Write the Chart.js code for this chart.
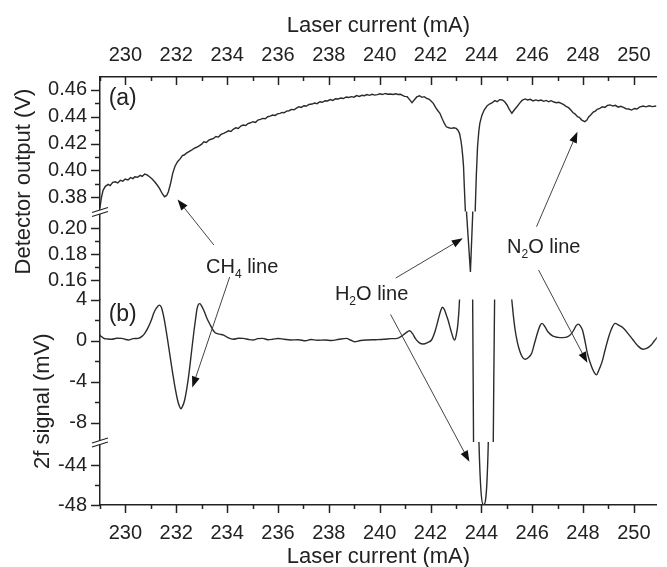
<!DOCTYPE html>
<html>
<head>
<meta charset="utf-8">
<script src="https://cdn.jsdelivr.net/npm/chart.js@4"></script>
<style>
  html, body { margin: 0; padding: 0; background: #fff; }
  #plot { display: block; }
</style>
</head>
<body>
<canvas id="plot" width="667" height="567"></canvas>
<script>
(function () {
    'use strict';

    // Panel (a): direct detector output vs laser current
    var currentA = [
        229.00, 229.05, 229.12, 229.21, 229.32, 229.40, 229.50, 229.60, 229.70, 229.80,
        229.90, 229.99, 230.10, 230.20, 230.30, 230.37, 230.48, 230.58, 230.66, 230.76,
        230.85, 230.96, 231.05, 231.15, 231.25, 231.34, 231.45, 231.54, 231.62, 231.69,
        231.78, 231.86, 231.95, 232.05, 232.15, 232.24, 232.31, 232.40, 232.50, 232.60,
        232.70, 232.80, 232.90, 233.00, 233.08, 233.18, 233.28, 233.37, 233.47, 233.56,
        233.66, 233.76, 233.86, 233.96, 234.05, 234.15, 234.24, 234.34, 234.44, 234.54,
        234.63, 234.73, 234.82, 234.92, 235.02, 235.12, 235.21, 235.31, 235.40, 235.50,
        235.60, 235.69, 235.79, 235.89, 235.98, 236.08, 236.17, 236.24, 236.34, 236.44,
        236.53, 236.63, 236.73, 236.82, 236.92, 237.02, 237.12, 237.22, 237.34, 237.44,
        237.54, 237.65, 237.75, 237.85, 237.95, 238.06, 238.16, 238.26, 238.37, 238.47,
        238.58, 238.68, 238.78, 238.89, 238.99, 239.09, 239.20, 239.30, 239.40, 239.50,
        239.60, 239.70, 239.81, 239.91, 240.01, 240.11, 240.22, 240.32, 240.43, 240.53,
        240.63, 240.72, 240.82, 240.90, 240.98, 241.08, 241.17, 241.27, 241.36, 241.46,
        241.57, 241.66, 241.75, 241.85, 241.95, 242.03, 242.11, 242.20, 242.29, 242.37,
        242.46, 242.55, 242.62, 242.72, 242.82, 242.92, 243.01, 243.08, 243.14, 243.19,
        243.23, 243.27, 243.30, 243.33, 243.37, 243.42, 243.57, 243.66, 243.76, 243.80,
        243.85, 243.90, 243.94, 244.02, 244.11, 244.22, 244.32, 244.43, 244.53, 244.62,
        244.72, 244.82, 244.92, 245.01, 245.10, 245.20, 245.30, 245.40, 245.50, 245.60,
        245.72, 245.82, 245.93, 246.03, 246.14, 246.24, 246.35, 246.45, 246.55, 246.65,
        246.75, 246.85, 246.95, 247.05, 247.14, 247.24, 247.33, 247.43, 247.52, 247.60,
        247.69, 247.78, 247.85, 247.95, 248.07, 248.15, 248.22, 248.30, 248.40, 248.48,
        248.56, 248.66, 248.76, 248.86, 248.96, 249.07, 249.17, 249.27, 249.38, 249.48,
        249.59, 249.69, 249.80, 249.91, 250.02, 250.12, 250.22, 250.36, 250.48, 250.60,
        250.72, 250.88
    ];
    var detectorV = [
        0.3720, 0.3790, 0.3850, 0.3880, 0.3895, 0.3885, 0.3910, 0.3914, 0.3905, 0.3925,
        0.3918, 0.3935, 0.3928, 0.3945, 0.3938, 0.3952, 0.3948, 0.3962, 0.3955, 0.3972,
        0.3965, 0.3950, 0.3935, 0.3914, 0.3890, 0.3865, 0.3825, 0.3802, 0.3812, 0.3840,
        0.3905, 0.3977, 0.4030, 0.4064, 0.4085, 0.4110, 0.4114, 0.4128, 0.4140, 0.4150,
        0.4164, 0.4172, 0.4182, 0.4195, 0.4213, 0.4208, 0.4225, 0.4232, 0.4239, 0.4252,
        0.4248, 0.4268, 0.4276, 0.4285, 0.4295, 0.4290, 0.4306, 0.4318, 0.4312, 0.4330,
        0.4338, 0.4335, 0.4348, 0.4355, 0.4363, 0.4358, 0.4375, 0.4380, 0.4388, 0.4385,
        0.4400, 0.4405, 0.4413, 0.4410, 0.4422, 0.4425, 0.4432, 0.4430, 0.4442, 0.4445,
        0.4455, 0.4452, 0.4465, 0.4475, 0.4470, 0.4482, 0.4480, 0.4492, 0.4495, 0.4502,
        0.4498, 0.4512, 0.4508, 0.4520, 0.4518, 0.4528, 0.4522, 0.4535, 0.4533, 0.4540,
        0.4536, 0.4548, 0.4544, 0.4550, 0.4546, 0.4558, 0.4552, 0.4560, 0.4557, 0.4566,
        0.4560, 0.4568, 0.4562, 0.4565, 0.4572, 0.4566, 0.4574, 0.4568, 0.4570, 0.4566,
        0.4572, 0.4566, 0.4568, 0.4560, 0.4552, 0.4550, 0.4530, 0.4505, 0.4525, 0.4548,
        0.4557, 0.4545, 0.4550, 0.4538, 0.4530, 0.4515, 0.4500, 0.4470, 0.4445, 0.4426,
        0.4385, 0.4348, 0.4325, 0.4318, 0.4313, 0.4318, 0.4313, 0.4300, 0.4276, 0.4230,
        0.4176, 0.4100, 0.4026, 0.3877, 0.3700, 0.2110, 0.1662, 0.2110, 0.3710, 0.3950,
        0.4176, 0.4290, 0.4351, 0.4410, 0.4450, 0.4480, 0.4495, 0.4505, 0.4520, 0.4512,
        0.4528, 0.4525, 0.4512, 0.4488, 0.4455, 0.4426, 0.4452, 0.4475, 0.4500, 0.4522,
        0.4533, 0.4525, 0.4530, 0.4518, 0.4526, 0.4520, 0.4525, 0.4515, 0.4522, 0.4512,
        0.4520, 0.4510, 0.4505, 0.4508, 0.4500, 0.4490, 0.4478, 0.4468, 0.4450, 0.4432,
        0.4420, 0.4400, 0.4396, 0.4375, 0.4363, 0.4375, 0.4398, 0.4413, 0.4435, 0.4442,
        0.4456, 0.4462, 0.4475, 0.4470, 0.4485, 0.4488, 0.4480, 0.4485, 0.4472, 0.4478,
        0.4470, 0.4460, 0.4458, 0.4450, 0.4462, 0.4458, 0.4472, 0.4480, 0.4474, 0.4482,
        0.4476, 0.4480
    ];

    // Panel (b): second harmonic signal vs laser current
    var currentB = [
        228.96, 229.05, 229.15, 229.30, 229.47, 229.65, 229.86, 230.00, 230.12, 230.30,
        230.50, 230.65, 230.76, 230.90, 231.02, 231.12, 231.21, 231.34, 231.42, 231.50,
        231.58, 231.66, 231.76, 231.86, 231.96, 232.05, 232.12, 232.18, 232.25, 232.33,
        232.42, 232.50, 232.60, 232.70, 232.77, 232.82, 232.88, 232.93, 233.00, 233.08,
        233.20, 233.34, 233.45, 233.53, 233.70, 233.86, 234.05, 234.24, 234.45, 234.63,
        234.85, 235.02, 235.20, 235.40, 235.60, 235.79, 236.00, 236.24, 236.50, 236.80,
        237.08, 237.30, 237.55, 237.85, 238.10, 238.40, 238.69, 238.85, 239.01, 239.25,
        239.53, 239.85, 240.17, 240.45, 240.69, 240.85, 241.01, 241.18, 241.30, 241.40,
        241.55, 241.72, 241.88, 242.04, 242.18, 242.30, 242.40, 242.47, 242.55, 242.62,
        242.69, 242.80, 242.90, 242.95, 243.01, 243.08, 243.14, 243.20, 243.40, 243.655,
        243.695, 243.91, 244.09, 244.27, 244.465, 244.525, 244.85, 245.15, 245.20, 245.26,
        245.33, 245.42, 245.52, 245.62, 245.72, 245.85, 245.98, 246.10, 246.24, 246.32,
        246.39, 246.50, 246.62, 246.80, 247.01, 247.20, 247.40, 247.55, 247.65, 247.73,
        247.81, 247.90, 247.98, 248.08, 248.17, 248.27, 248.36, 248.45, 248.53, 248.62,
        248.75, 248.88, 249.01, 249.13, 249.26, 249.40, 249.59, 249.78, 249.97, 250.15,
        250.36, 250.52, 250.68, 250.80, 250.94
    ];
    var signal2f = [
        0.63, 0.40, 0.21, 0.15, 0.12, 0.22, 0.21, 0.10, 0.05, 0.18,
        0.21, 0.40, 0.70, 1.30, 2.00, 2.70, 3.13, 3.45, 3.20, 2.40,
        1.30, 0.05, -1.60, -3.20, -4.70, -5.80, -6.40, -6.65, -6.40, -5.80,
        -4.60, -3.20, -1.10, 1.00, 2.30, 3.13, 3.55, 3.60, 3.35, 2.96,
        2.20, 1.50, 1.00, 0.76, 0.62, 0.53, 0.25, 0.12, 0.22, 0.21,
        0.10, 0.05, 0.18, 0.21, 0.08, 0.12, 0.20, 0.12, 0.05, 0.08,
        -0.02, 0.10, 0.02, 0.05, 0.00, 0.12, 0.21, 0.05, -0.12, 0.00,
        0.05, 0.08, 0.12, 0.18, 0.21, 0.40, 0.70, 0.95, 0.65, 0.21,
        -0.20, -0.34, -0.20, 0.05, 0.90, 2.00, 2.90, 3.25, 3.00, 2.50,
        2.00, 1.00, 0.20, 0.05, 0.50, 1.67, 3.90, 8.00, 14.00, 5.00,
        -11.00, -42.07, -48.00, -42.07, -11.00, 5.00, 14.00, 5.00, 3.90, 2.40,
        1.00, -0.20, -1.10, -1.65, -1.83, -1.65, -1.24, -0.20, 1.00, 1.50,
        1.67, 1.35, 0.85, 0.45, 0.31, 0.28, 0.37, 0.70, 1.09, 1.45,
        1.60, 1.40, 1.00, -0.10, -1.24, -2.10, -2.70, -3.15, -3.35, -2.90,
        -2.06, -0.80, 0.37, 1.20, 1.67, 1.50, 1.20, 0.65, 0.05, -0.50,
        -0.85, -0.75, -0.44, -0.05, 0.37
    ];

    // Tick labels
    var currentTicks = [230, 232, 234, 236, 238, 240, 242, 244, 246, 248, 250];
    var detectorTicksHigh = [0.38, 0.40, 0.42, 0.44, 0.46];
    var detectorTicksLow = [0.16, 0.18, 0.20];
    var signalTicksHigh = [4, 0, -4, -8];
    var signalTicksLow = [-44, -48];

    var ink = '#222';
    var family = "'Liberation Sans', Arial, sans-serif";

    function pairs(xs, ys) {
        return xs.map(function (x, i) { return {x: x, y: ys[i]}; });
    }

    function halfSteps(ticks) {
        var out = [];
        for (var i = 0; i < ticks.length - 1; i++)
            out.push((ticks[i] + ticks[i + 1]) / 2);
        return out;
    }

    // every y segment of the broken axes stacks on the left
    function segment(min, max, ticks, weight, stackWeight, fmt) {
        return {
            'type'        : 'linear',
            'position'    : 'left',
            'stack'       : 'left',
            'stackWeight' : stackWeight,
            'weight'      : weight,
            'min'         : min,
            'max'         : max,
            'afterBuildTicks' : function (s) { s.ticks = ticks.map(function (v) { return {value: v}; }); },
            'afterFit'    : function (s) { s.width = 100; },
            'grid'        : {drawOnChartArea: false, drawTicks: false},
            'border'      : {color: ink, width: 1.5},
            'ticks'       : {padding: 13, color: ink, autoSkip: false, font: {family: family, size: 20}, callback: fmt}
        };
    }

    var minorTicks = {
        vHigh : [0.39, 0.41, 0.43, 0.45],
        vLow  : halfSteps(detectorTicksLow),
        sHigh : halfSteps(signalTicksHigh),
        sLow  : halfSteps(signalTicksLow)
    };
    var majorTicks = {
        vHigh : detectorTicksHigh,
        vLow  : detectorTicksLow,
        sHigh : signalTicksHigh,
        sLow  : signalTicksLow
    };

    // labels and arrows, anchored in data units
    var notes = [
        {parts: ['CH', '4', ' line'], x: 233.17, axis: 'vLow', y: 0.1654},
        {parts: ['H', '2', 'O line'], x: 238.24, axis: 'sHigh', y: 4.0},
        {parts: ['N', '2', 'O line'], x: 245.01, axis: 'vLow', y: 0.1808},
        {parts: ['(a)', '', ''], x: 229.34, axis: 'vHigh', y: 0.4488},
        {parts: ['(b)', '', ''], x: 229.34, axis: 'sHigh', y: 1.88}
    ];
    var arrows = [
        {from: [233.48, 'vLow', 0.1869], to: [232.05, 'vHigh', 0.3782]},
        {from: [234.10, 'vLow', 0.1623], to: [232.63, 'sHigh', -4.59]},
        {from: [240.63, 'vLow', 0.1615], to: [243.27, 'vLow', 0.1921]},
        {from: [240.43, 'sHigh', 2.54], to: [243.53, 'sLow', -43.67]},
        {from: [246.17, 'vLow', 0.2010], to: [247.78, 'vHigh', 0.4288]},
        {from: [246.25, 'vLow', 0.1677], to: [248.17, 'sHigh', -2.18]}
    ];

    function px(chart, x, axis, y) {
        return [chart.scales.x.getPixelForValue(x), chart.scales[axis].getPixelForValue(y)];
    }

    var decor = {
        id: 'decor',
        beforeDatasetDraw: function (chart, args) {
            var y = chart.scales[args.meta.yAxisID];
            var a = chart.chartArea;
            chart.ctx.save();
            chart.ctx.beginPath();
            chart.ctx.rect(a.left, y.top, a.right - a.left, y.bottom - y.top);
            chart.ctx.clip();
        },
        afterDatasetDraw: function (chart) {
            chart.ctx.restore();
        },
        afterDraw: function (chart) {
            var ctx = chart.ctx;
            var a = chart.chartArea;
            var sx = chart.scales.x;
            ctx.save();
            ctx.strokeStyle = ink;
            ctx.lineWidth = 1.5;

            // y ticks, pointing out
            Object.keys(majorTicks).forEach(function (id) {
                var s = chart.scales[id];
                majorTicks[id].forEach(function (v) {
                    var p = Math.round(s.getPixelForValue(v)) + 0.5;
                    ctx.beginPath(); ctx.moveTo(a.left - 9, p); ctx.lineTo(a.left, p); ctx.stroke();
                });
                minorTicks[id].forEach(function (v) {
                    var p = Math.round(s.getPixelForValue(v)) + 0.5;
                    ctx.beginPath(); ctx.moveTo(a.left - 5, p); ctx.lineTo(a.left, p); ctx.stroke();
                });
            });

            // x ticks: bottom point out, top point in
            var minorX = [229].concat(halfSteps(currentTicks), [251]);
            currentTicks.forEach(function (v) {
                var p = Math.round(sx.getPixelForValue(v)) + 0.5;
                ctx.beginPath(); ctx.moveTo(p, a.bottom); ctx.lineTo(p, a.bottom + 8); ctx.stroke();
                ctx.beginPath(); ctx.moveTo(p, a.top); ctx.lineTo(p, a.top + 8); ctx.stroke();
            });
            minorX.forEach(function (v) {
                if (v > sx.max) return;
                var p = Math.round(sx.getPixelForValue(v)) + 0.5;
                ctx.beginPath(); ctx.moveTo(p, a.bottom); ctx.lineTo(p, a.bottom + 4); ctx.stroke();
                ctx.beginPath(); ctx.moveTo(p, a.top); ctx.lineTo(p, a.top + 4); ctx.stroke();
            });

            // axis break marks
            ['vHigh', 'sHigh'].forEach(function (id) {
                var yb = chart.scales[id].bottom;
                var x0 = a.left - 8, x1 = a.left + 8;
                ctx.beginPath();
                ctx.moveTo(x0, yb + 1); ctx.lineTo(x1, yb - 4);
                ctx.lineTo(x1, yb); ctx.lineTo(x0, yb + 5);
                ctx.closePath();
                ctx.fillStyle = '#fff';
                ctx.fill();
                ctx.lineWidth = 1.3;
                ctx.beginPath(); ctx.moveTo(x0, yb + 1); ctx.lineTo(x1, yb - 4); ctx.stroke();
                ctx.beginPath(); ctx.moveTo(x0, yb + 5); ctx.lineTo(x1, yb); ctx.stroke();
            });

            // y titles
            ctx.fillStyle = ink;
            ctx.font = '22px ' + family;
            ctx.textAlign = 'center';
            ctx.textBaseline = 'middle';
            var titles = [
                ['Detector output (V)', 23.5, (chart.scales.vHigh.getPixelForValue(0.47) + chart.scales.vLow.getPixelForValue(0.155)) / 2],
                ['2f signal (mV)', 42.5, (chart.scales.sHigh.getPixelForValue(4.2) + chart.scales.sLow.getPixelForValue(-48)) / 2]
            ];
            titles.forEach(function (t) {
                ctx.save();
                ctx.translate(t[1], t[2]);
                ctx.rotate(-Math.PI / 2);
                ctx.fillText(t[0], 0, 0);
                ctx.restore();
            });

            // arrows
            ctx.strokeStyle = '#444';
            ctx.fillStyle = '#111';
            ctx.lineWidth = 1;
            arrows.forEach(function (ar) {
                var p0 = px(chart, ar.from[0], ar.from[1], ar.from[2]);
                var p1 = px(chart, ar.to[0], ar.to[1], ar.to[2]);
                var ang = Math.atan2(p1[1] - p0[1], p1[0] - p0[0]);
                var len = 11, hw = 4;
                var bx = p1[0] - len * Math.cos(ang), by = p1[1] - len * Math.sin(ang);
                ctx.beginPath(); ctx.moveTo(p0[0], p0[1]); ctx.lineTo(bx, by); ctx.stroke();
                ctx.beginPath();
                ctx.moveTo(p1[0], p1[1]);
                ctx.lineTo(bx + hw * Math.sin(ang), by - hw * Math.cos(ang));
                ctx.lineTo(bx - hw * Math.sin(ang), by + hw * Math.cos(ang));
                ctx.closePath();
                ctx.fill();
            });

            // labels with subscripts
            ctx.fillStyle = ink;
            ctx.textAlign = 'left';
            ctx.textBaseline = 'alphabetic';
            notes.forEach(function (n) {
                var p = px(chart, n.x, n.axis, n.y);
                var big = n.parts[0] === '(a)' || n.parts[0] === '(b)' ? 23 : 20;
                ctx.font = big + 'px ' + family;
                ctx.fillText(n.parts[0], p[0], p[1]);
                var w = ctx.measureText(n.parts[0]).width;
                ctx.font = '12px ' + family;
                ctx.fillText(n.parts[1], p[0] + w, p[1] + 5);
                w += ctx.measureText(n.parts[1]).width;
                ctx.font = big + 'px ' + family;
                ctx.fillText(n.parts[2], p[0] + w, p[1]);
            });
            ctx.restore();
        }
    };

    var traceA = pairs(currentA, detectorV);
    var traceB = pairs(currentB, signal2f);
    var lineA = {borderColor: '#2b2b2b', borderWidth: 1.4, pointRadius: 0, tension: 0, clip: false};
    var lineB = {borderColor: '#2b2b2b', borderWidth: 1.4, pointRadius: 0, cubicInterpolationMode: 'monotone', clip: false};

    function fixed2(v) { return Number(v).toFixed(2); }
    function whole(v) { return String(v); }

    new Chart(document.getElementById('plot'), { //eslint-disable-line
        'type'    : 'line',
        'plugins' : [decor],
        'data'    : {
            'datasets' : [
                Object.assign({data: traceA, yAxisID: 'vHigh'}, lineA),
                Object.assign({data: traceA, yAxisID: 'vLow'}, lineA),
                Object.assign({data: traceB, yAxisID: 'sHigh'}, lineB),
                Object.assign({data: traceB, yAxisID: 'sLow'}, lineB)
            ]
        },
        'options' : {
            'responsive' : false,
            'animation'  : false,
            'events'     : [],
            'layout'     : {padding: 0},
            'plugins'    : {legend: {display: false}, tooltip: {enabled: false}},
            'scales'     : {
                'x' : {
                    type: 'linear', position: 'bottom', min: 229, max: 250.9,
                    afterBuildTicks: function (s) { s.ticks = currentTicks.map(function (v) { return {value: v}; }); },
                    afterFit: function (s) { s.height = 62; },
                    grid: {drawOnChartArea: false, drawTicks: false},
                    border: {color: ink, width: 1.5},
                    ticks: {padding: 16, color: ink, autoSkip: false, maxRotation: 0, font: {family: family, size: 20}},
                    title: {display: true, text: 'Laser current (mA)', color: ink, padding: {top: 0, bottom: -3}, font: {family: family, size: 22}}
                },
                'xTop' : {
                    type: 'linear', position: 'top', min: 229, max: 250.9,
                    afterBuildTicks: function (s) { s.ticks = currentTicks.map(function (v) { return {value: v}; }); },
                    afterFit: function (s) { s.height = 77; },
                    grid: {drawOnChartArea: false, drawTicks: false},
                    border: {color: ink, width: 1.5},
                    ticks: {padding: 10, color: ink, autoSkip: false, maxRotation: 0, font: {family: family, size: 20}},
                    title: {display: true, text: 'Laser current (mA)', color: ink, padding: {top: 13, bottom: 0}, font: {family: family, size: 22}}
                },
                'vHigh' : segment(0.3692, 0.4697, detectorTicksHigh, 4, 134.5, fixed2),
                'vLow'  : segment(0.145, 0.2127, detectorTicksLow, 3, 88, fixed2),
                'sHigh' : segment(-9.9, 4.0, signalTicksHigh, 2, 142.5, whole),
                'sLow'  : segment(-48, -41.7, signalTicksLow, 1, 63, whole)
            }
        }
    });
}());
</script>
</body>
</html>
